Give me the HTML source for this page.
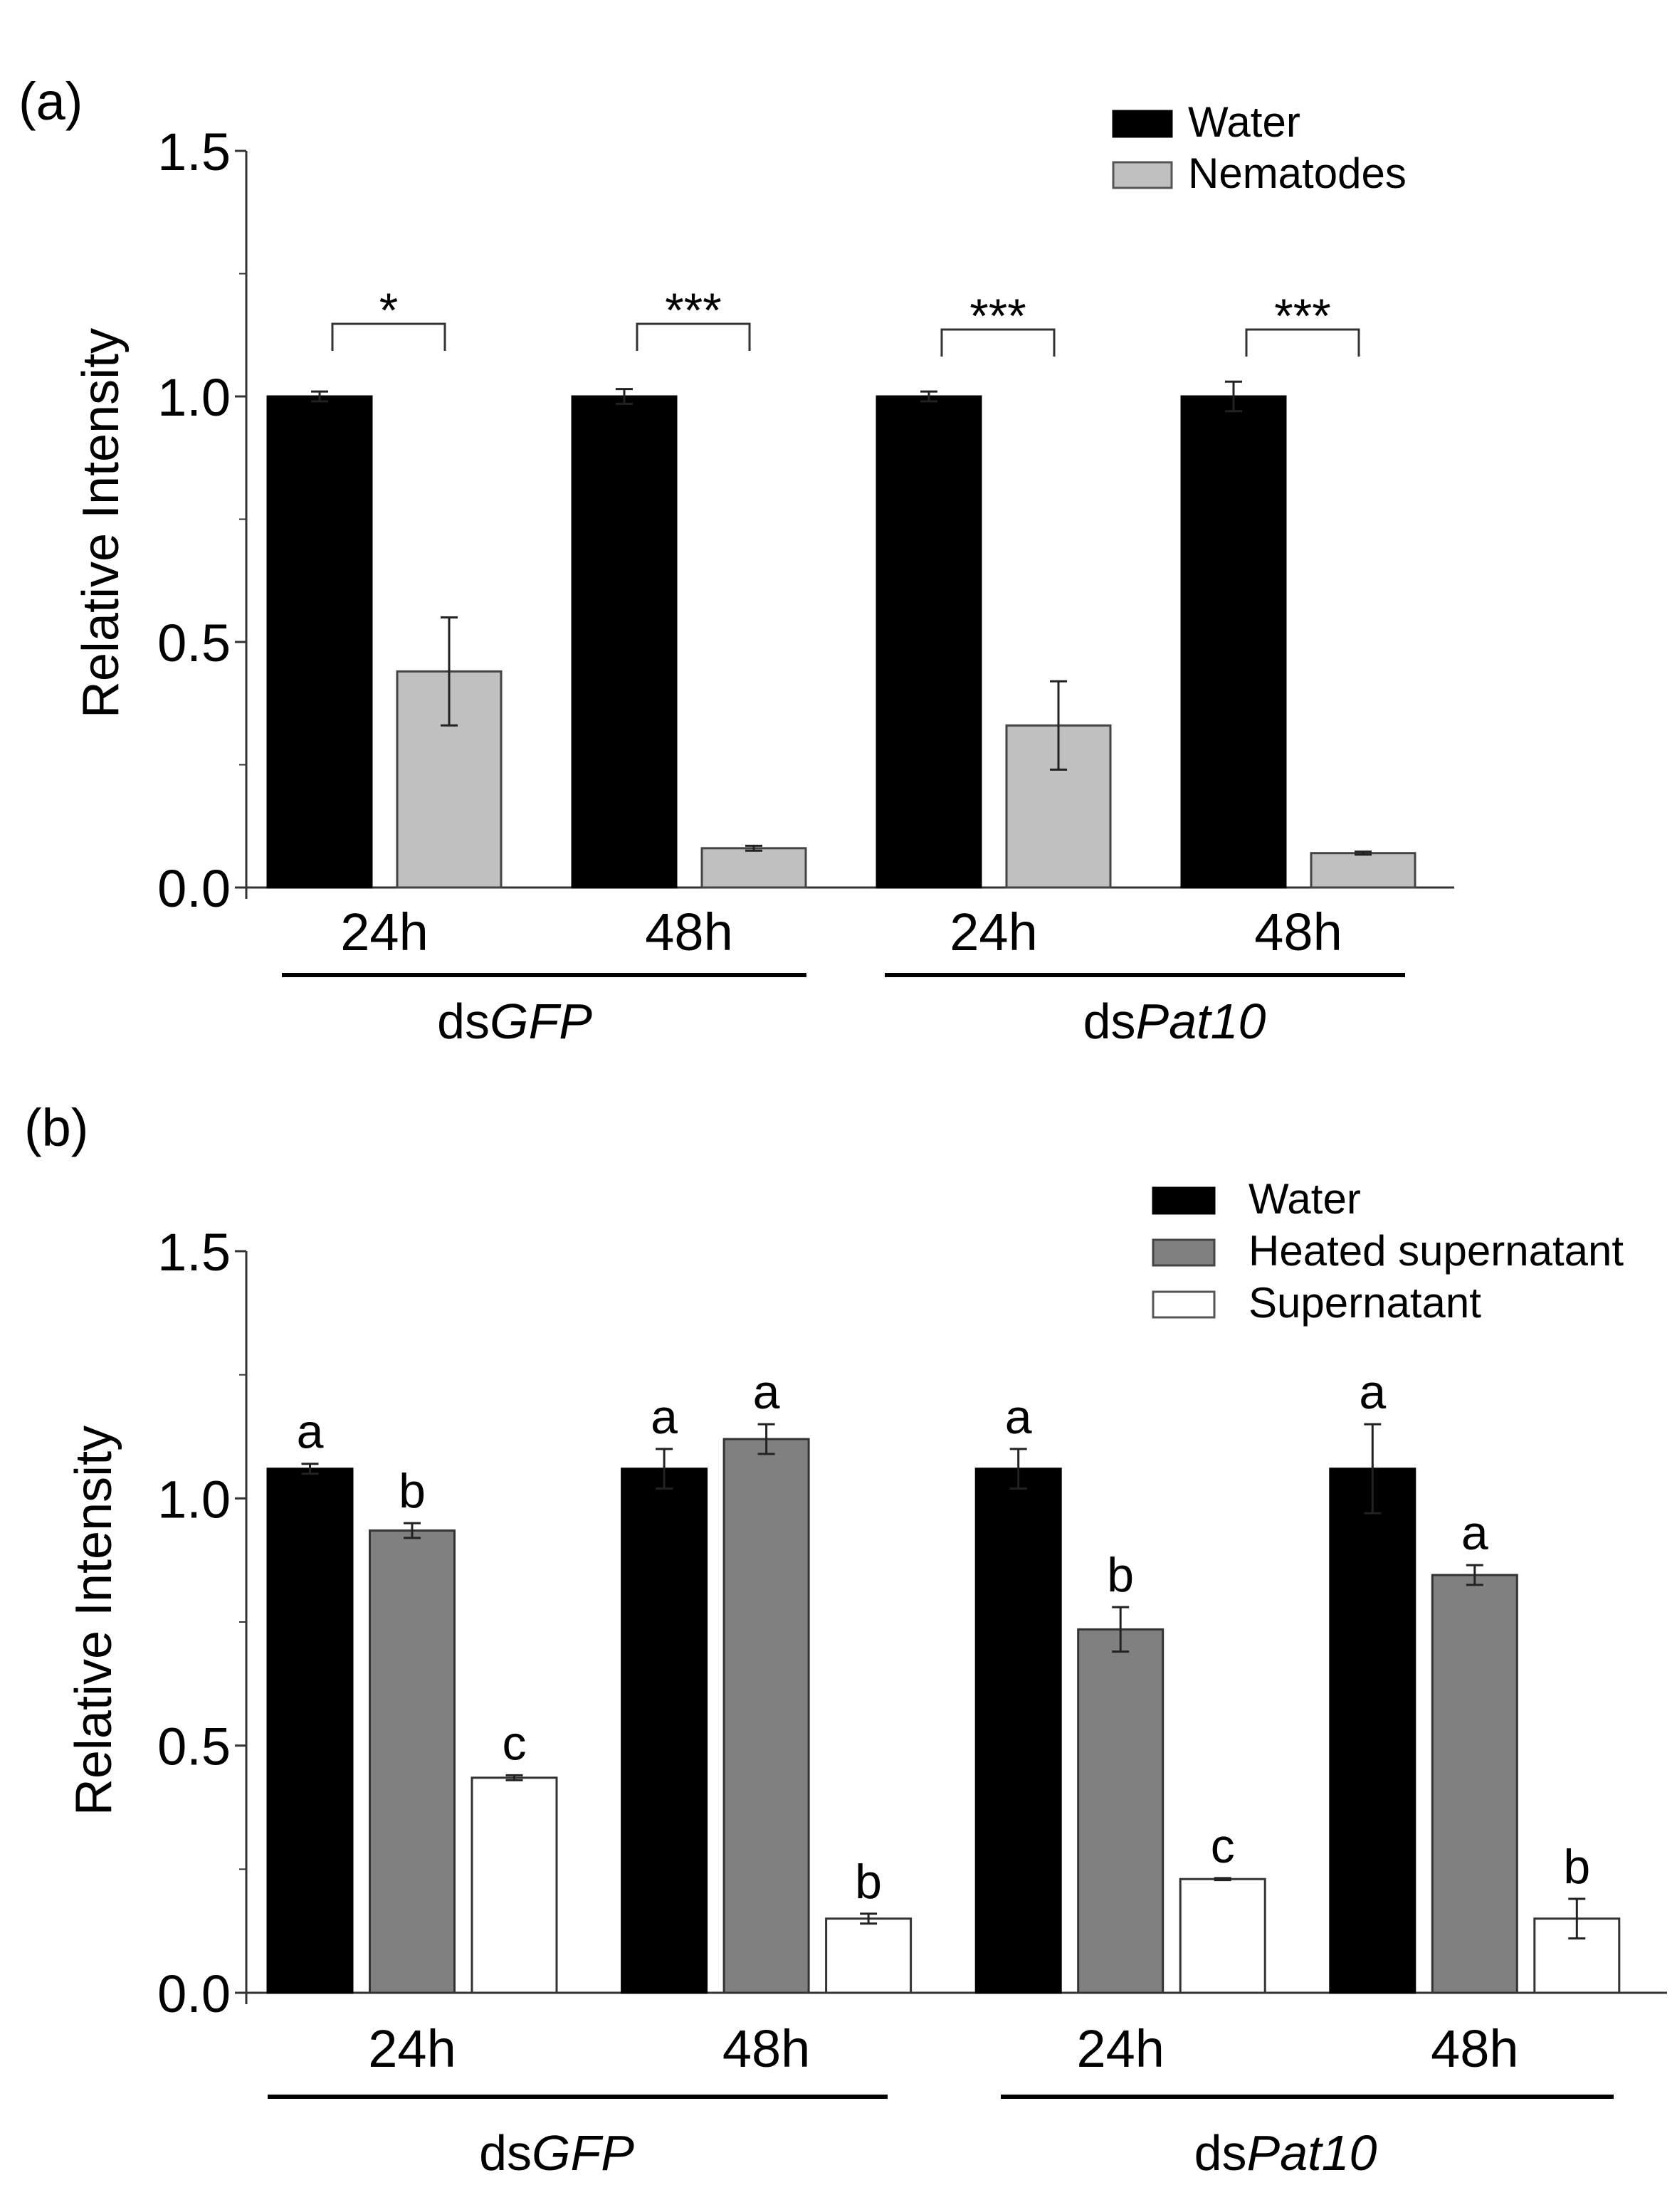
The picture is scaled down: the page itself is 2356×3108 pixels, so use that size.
<!DOCTYPE html>
<html><head><meta charset="utf-8"><style>
html,body{margin:0;padding:0;background:#fff;}
svg{display:block;font-family:"Liberation Sans",Arial,sans-serif;}
</style></head><body>
<svg id="fig" width="2356" height="3108" viewBox="0 0 2356 3108" xmlns="http://www.w3.org/2000/svg">
<rect x="0" y="0" width="2356" height="3108" fill="#fff"/>
</svg>
<script>
// Panel (a) data
const aGroups = ["24h","48h","24h","48h"];
const aWater = [1.0, 1.0, 1.0, 1.0];
const aWaterErr = [0.01, 0.015, 0.01, 0.03];
const aNem = [0.44, 0.08, 0.33, 0.07];
const aNemErr = [0.11, 0.005, 0.09, 0.003];
const aStars = ["*","***","***","***"];
const aTicks = [0.0, 0.5, 1.0, 1.5];
// Panel (b) data
const bGroups = ["24h","48h","24h","48h"];
const bWater = [1.06, 1.06, 1.06, 1.06];
const bWaterErr = [0.01, 0.04, 0.04, 0.09];
const bHeated = [0.935, 1.12, 0.735, 0.845];
const bHeatedErr = [0.015, 0.03, 0.045, 0.02];
const bSuper = [0.435, 0.15, 0.23, 0.15];
const bSuperErr = [0.005, 0.01, 0.002, 0.04];
const bWaterLetters = ["a","a","a","a"];
const bHeatedLetters = ["b","a","b","a"];
const bSuperLetters = ["c","b","c","b"];
const bTicks = [0.0, 0.5, 1.0, 1.5];

const NS="http://www.w3.org/2000/svg";
const svg=document.getElementById('fig');
function el(tag,attrs,parent,txt){const e=document.createElementNS(NS,tag);for(const k in attrs)e.setAttribute(k,attrs[k]);if(txt!==undefined)e.textContent=txt;(parent||svg).appendChild(e);return e;}

function panel(cfg){
  const g=el('g',{});
  
  
  const y=v=>cfg.y0-(v/1.5)*(cfg.y0-cfg.y15);
  const ya=el('line',{x1:cfg.ax,y1:cfg.y15,x2:cfg.ax,y2:cfg.y0+16,stroke:'#333','stroke-width':3},g);
  
  
  const xa=el('line',{x1:cfg.ax-16,y1:cfg.y0,x2:cfg.axEnd,y2:cfg.y0,stroke:'#333','stroke-width':3},g);
  
  
  for(let v=0.25;v<1.5;v+=0.5){
    const t=el('line',{x1:cfg.ax-10,y1:y(v),x2:cfg.ax,y2:y(v),stroke:'#333','stroke-width':2},g);
    
    
  }
  cfg.ticks.forEach(v=>{
    const t=el('line',{x1:cfg.ax-16,y1:y(v),x2:cfg.ax,y2:y(v),stroke:'#333','stroke-width':3},g);
    
    
    const l=el('text',{x:cfg.ax-22,y:y(v)+27,'text-anchor':'end','font-size':74},g,v.toFixed(1));
    
    
  });
  const yt=el('text',{x:0,y:0,'text-anchor':'middle','font-size':72,transform:`translate(${cfg.titleX},${cfg.titleY}) rotate(-90)`},g,'Relative Intensity');
  
  
  const pl=el('text',{x:cfg.labelX,y:cfg.labelY,'font-size':74},g,cfg.label);
  
  
  cfg.groups.forEach((gname,i)=>{
    const gx=cfg.first+i*cfg.gstep;
    cfg.series.forEach((s,j)=>{
      const bx=gx+j*cfg.bstep, v=s.vals[i], top=y(v);
      const r=el('rect',{x:bx,y:top,width:cfg.bw,height:cfg.y0-top,fill:s.fill,stroke:s.stroke,'stroke-width':3},g);
      
      
      const cx=bx+cfg.bw/2, e=s.err[i];
      const eb=el('path',{d:`M${cx} ${y(v+e)}V${y(v-e)}M${cx-12} ${y(v+e)}H${cx+12}M${cx-12} ${y(v-e)}H${cx+12}`,stroke:'#222','stroke-width':3,fill:'none'},g);
      
      
      if(s.letters){
        const lt=el('text',{x:cx,y:y(v+e)-22,'text-anchor':'middle','font-size':68},g,s.letters[i]);
        
        
      }
    });
    const gc=gx+((cfg.series.length-1)*cfg.bstep+cfg.bw)/2;
    const xl=el('text',{x:gc+(cfg.xlShift||0),y:cfg.xlY,'text-anchor':'middle','font-size':74},g,gname);
    
    
    if(cfg.stars){
      const x1=gx+cfg.bw/2+18, x2=gx+cfg.bstep+cfg.bw/2-6;
      const yb=i<2?455:463;
      const br=el('path',{d:`M${x1} ${yb+38}V${yb}H${x2}V${yb+38}`,stroke:'#333','stroke-width':3,fill:'none'},g);
      
      
      const st=el('text',{x:(x1+x2)/2,y:yb+4,'text-anchor':'middle','font-size':68},g,cfg.stars[i]);
      
      
    }
  });
  cfg.under.forEach(u=>{
    const ln=el('line',{x1:u[0],y1:cfg.underY,x2:u[1],y2:cfg.underY,stroke:'#000','stroke-width':6},g);
    
    
    const t=el('text',{x:u[2],y:cfg.gLabY,'text-anchor':'middle','font-size':70},g);
    
    
    el('tspan',{},t,'ds');
    el('tspan',{'font-style':'italic'},t,u[3]);
  });
  cfg.legend.forEach((L,k)=>{
    const ly=cfg.legY+k*cfg.legStep;
    const bx=el('rect',{x:cfg.legX,y:ly,width:cfg.legW,height:36,fill:L.fill,stroke:L.stroke,'stroke-width':3},g);
    
    
    const lt=el('text',{x:cfg.legTX,y:ly+36,'font-size':60},g,L.text);
    
    
  });
}

panel({name:'panel-a',label:'(a)',labelX:26,labelY:168,ax:346,axEnd:2043,y0:1247,y15:212,ticks:aTicks,
  titleX:166,titleY:735,groups:aGroups,first:376,gstep:428,bstep:182,bw:146,xlY:1335,
  series:[{key:'water',vals:aWater,err:aWaterErr,fill:'#000',stroke:'#000'},
          {key:'nematodes',vals:aNem,err:aNemErr,fill:'#c0c0c0',stroke:'#444'}],
  stars:aStars,under:[[396,1133,723,'GFP'],[1243,1974,1650,'Pat10']],underY:1370,gLabY:1459,
  legend:[{fill:'#000',stroke:'#000',text:'Water'},{fill:'#c0c0c0',stroke:'#555',text:'Nematodes'}],
  legX:1564,legW:82,legY:156,legStep:72,legTX:1669});

panel({name:'panel-b',label:'(b)',labelX:34,labelY:1610,ax:346,axEnd:2342,y0:2800,y15:1758,ticks:bTicks,
  titleX:156,titleY:2277,groups:bGroups,first:376,gstep:497.6,bstep:143.5,bw:119,xlY:2904,
  series:[{key:'water',vals:bWater,err:bWaterErr,fill:'#000',stroke:'#000',letters:bWaterLetters},
          {key:'heated-supernatant',vals:bHeated,err:bHeatedErr,fill:'#808080',stroke:'#333',letters:bHeatedLetters},
          {key:'supernatant',vals:bSuper,err:bSuperErr,fill:'#fff',stroke:'#333',letters:bSuperLetters}],
  under:[[376,1247,782,'GFP'],[1406,2267,1806,'Pat10']],underY:2946,gLabY:3049,
  legend:[{fill:'#000',stroke:'#000',text:'Water'},{fill:'#808080',stroke:'#444',text:'Heated supernatant'},{fill:'#fff',stroke:'#555',text:'Supernatant'}],
  legX:1620,legW:86,legY:1669,legStep:73,legTX:1754});
</script>
</body></html>
